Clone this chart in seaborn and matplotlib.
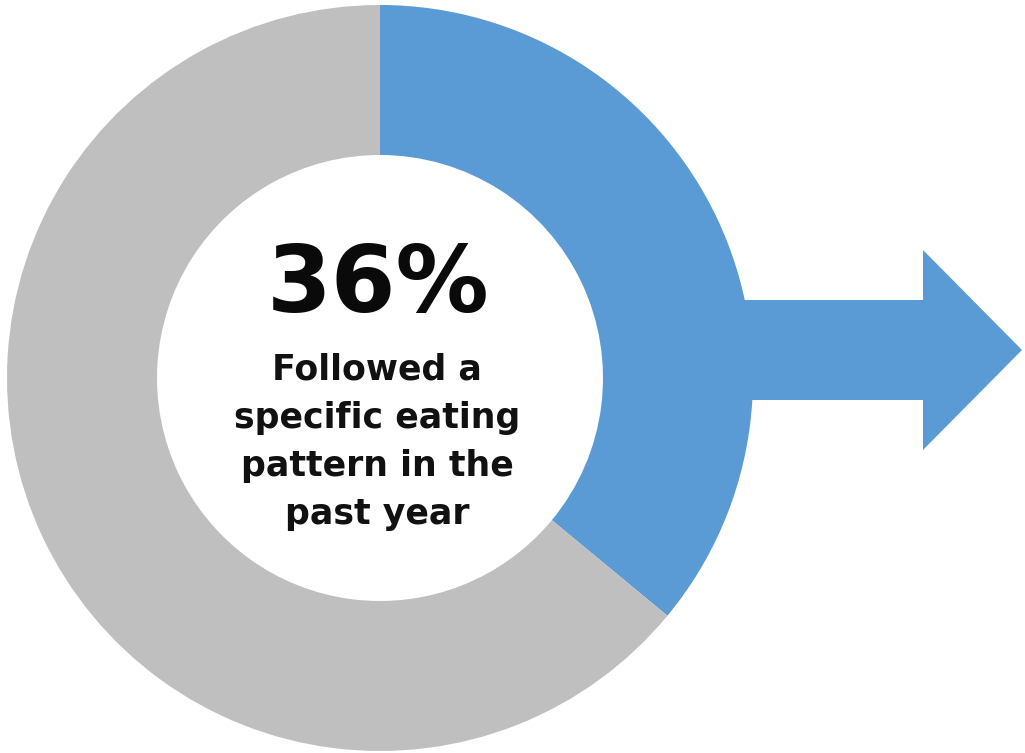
import matplotlib
matplotlib.use("Agg")
import matplotlib.pyplot as plt
from matplotlib.patches import FancyArrow
import seaborn as sns

# Data
categories = ["Followed a specific eating pattern", "Did not"]
values = [36, 64]
colors = ["#5B9BD5", "#BFBFBF"]
headline = "36%"
caption_lines = ["Followed a", "specific eating", "pattern in the", "past year"]

sns.set_theme(style="white")
plt.rcParams["font.family"] = ["DejaVu Sans"]

W, H = 1025, 753
fig = plt.figure(figsize=(W / 100, H / 100), dpi=100)
ax = fig.add_axes([0, 0, 1, 1])

cx, cy = 380, H - 378
r_out, r_in = 373, 223

# arrow behind donut
arr = FancyArrow(690, H - 350, 1022 - 690, 0, width=100, head_width=200,
                 head_length=99, length_includes_head=True,
                 color=colors[0], linewidth=0, zorder=1)
ax.add_patch(arr)

ax.pie(values, colors=colors, startangle=90, counterclock=False,
       center=(cx, cy), radius=r_out, frame=True,
       wedgeprops=dict(width=r_out - r_in, linewidth=0, zorder=2))
ax.set_xlim(0, W)
ax.set_ylim(0, H)
ax.set_aspect("equal")
ax.axis("off")

ax.text(cx - 2, H - 312, headline, ha="center", va="baseline",
        fontsize=67, fontweight="bold", color="#0a0a0a", zorder=3)

baselines = [379, 428, 476, 524]
for line, b in zip(caption_lines, baselines):
    ax.text(cx - 3, H - b, line, ha="center", va="baseline",
            fontsize=25, fontweight="bold", color="#111111", zorder=3)

fig.savefig("out.png", dpi=100)
